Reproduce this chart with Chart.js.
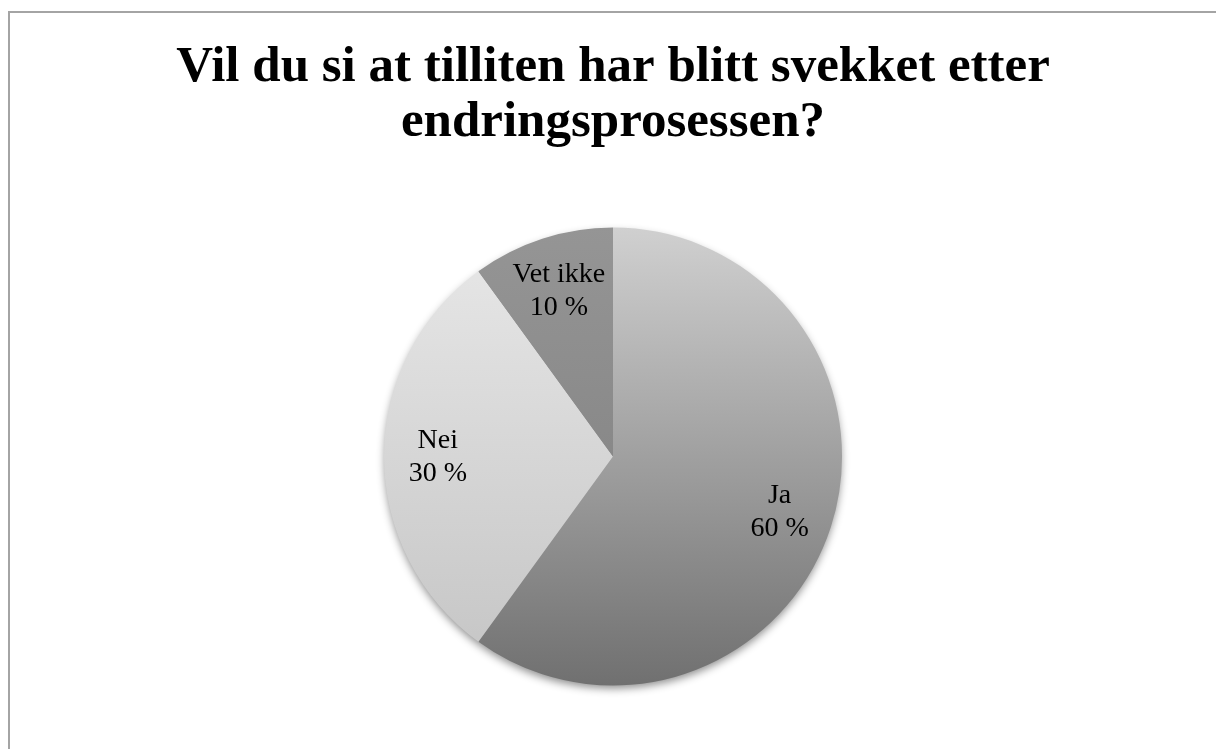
<!DOCTYPE html>
<html>
<head>
<meta charset="utf-8">
<script src="https://cdn.jsdelivr.net/npm/chart.js@4.4.1/dist/chart.umd.min.js"></script>
<style>
  html, body { margin: 0; padding: 0; background: #fff; overflow: hidden; }
  #frame { position: absolute; left: 8px; top: 11px; width: 1400px; height: 1000px;
           border-top: 2px solid #a4a4a4; border-left: 2px solid #a4a4a4; }
  #chart { position: absolute; left: 0; top: 0; }
</style>
</head>
<body>
<div id="frame"></div>
<canvas id="chart" width="1216" height="749"></canvas>
<script>
"use strict";
const titleLines = ["Vil du si at tilliten har blitt svekket etter", "endringsprosessen?"];
const categories = ["Ja", "Nei", "Vet ikke"];
const shares = [60, 30, 10];
// top and bottom stop of each slice's gradient
const gradTop = ["#d0d0d0", "#e8e8e8", "#959595"];
const gradBottom = ["#707070", "#c4c4c4", "#7c7c7c"];

function sliceFill(context) {
  const chart = context.chart;
  const area = chart.chartArea;
  if (!area) return gradTop[context.dataIndex];
  const g = chart.ctx.createLinearGradient(0, area.top, 0, area.bottom);
  g.addColorStop(0, gradTop[context.dataIndex]);
  g.addColorStop(1, gradBottom[context.dataIndex]);
  return g;
}

const pieShadow = {
  id: "pieShadow",
  beforeDatasetsDraw(chart) {
    const arc = chart.getDatasetMeta(0).data[0];
    if (!arc) return;
    const p = arc.getProps(["x", "y", "outerRadius"], true);
    const ctx = chart.ctx;
    ctx.save();
    ctx.shadowColor = "rgba(0,0,0,0.45)";
    ctx.shadowBlur = 9;
    ctx.shadowOffsetY = 4;
    ctx.fillStyle = "#909090";
    ctx.beginPath();
    ctx.arc(p.x, p.y, p.outerRadius - 1, 0, Math.PI * 2);
    ctx.fill();
    ctx.restore();
  }
};

const sliceLabels = {
  id: "sliceLabels",
  afterDatasetsDraw(chart) {
    const ctx = chart.ctx;
    ctx.save();
    ctx.font = "28px 'Liberation Serif'";
    ctx.fillStyle = "#000";
    ctx.textAlign = "center";
    ctx.textBaseline = "alphabetic";
    chart.getDatasetMeta(0).data.forEach((arc, i) => {
      const p = arc.getProps(["x", "y", "startAngle", "endAngle", "outerRadius"], true);
      const mid = (p.startAngle + p.endAngle) / 2;
      const r = p.outerRadius * 0.765;
      const lx = p.x + Math.cos(mid) * r;
      const ly = p.y + Math.sin(mid) * r;
      ctx.fillText(categories[i], lx, ly - 8);
      ctx.fillText(shares[i] + " %", lx, ly + 25);
    });
    ctx.restore();
  }
};

const ctx = document.getElementById("chart").getContext("2d");
new Chart(ctx, {
  type: "pie",
  data: {
    labels: categories,
    datasets: [{
      data: shares,
      backgroundColor: sliceFill,
      borderWidth: 0,
      offset: 0,
      hoverOffset: 0
    }]
  },
  options: {
    responsive: false,
    animation: false,
    layout: { padding: { top: 0, left: 10, right: 0, bottom: 63.5 } },
    plugins: {
      legend: { display: false },
      tooltip: { enabled: false },
      title: {
        display: true,
        text: titleLines,
        color: "#000",
        font: { family: "'Liberation Serif'", size: 51, weight: "bold", lineHeight: 1.08 },
        padding: { top: 40.3, bottom: 77 }
      }
    }
  },
  plugins: [pieShadow, sliceLabels]
});
</script>
</body>
</html>
